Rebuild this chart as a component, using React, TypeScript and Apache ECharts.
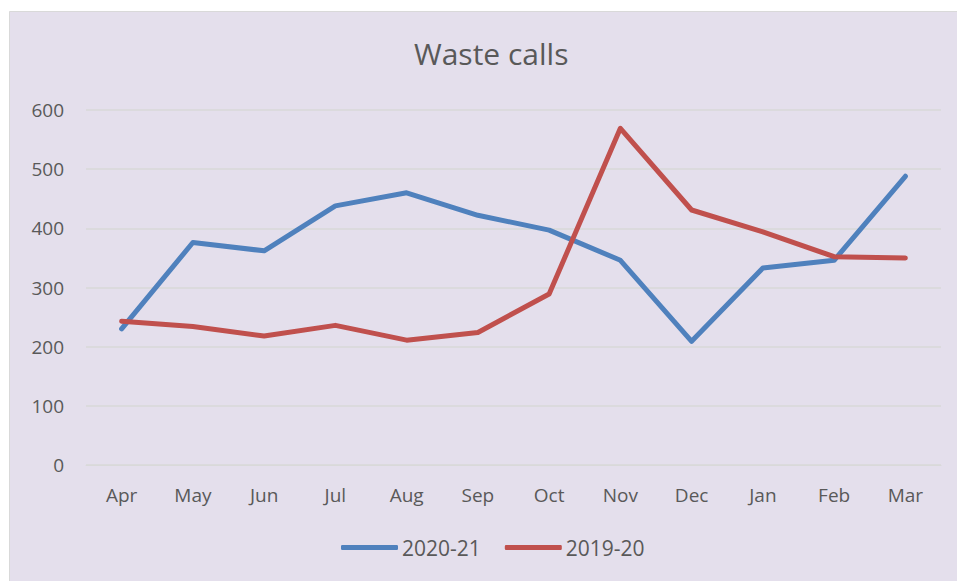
import React, { useEffect, useRef } from "react";
import * as echarts from "echarts";

const categories = ["Apr", "May", "Jun", "Jul", "Aug", "Sep", "Oct", "Nov", "Dec", "Jan", "Feb", "Mar"];
const series2021 = [230, 376, 362, 438, 460, 422, 397, 346, 209, 333, 346, 488];
const series1920 = [243, 234, 218, 236, 211, 224, 289, 569, 431, 394, 352, 350];
const yTicks = { min: 0, max: 600, interval: 100 };

export default function App() {
  const ref = useRef<HTMLDivElement>(null);
  useEffect(() => {
    const chart = echarts.init(ref.current!, null, { renderer: "svg" });
    const font = "'Open Sans', 'Liberation Sans', sans-serif";
    chart.setOption({
      animation: false,
      backgroundColor: "#ffffff",
      graphic: [
        {
          type: "rect",
          z: -10,
          silent: true,
          shape: { x: 9.5, y: 11.5, width: 960, height: 580 },
          style: { fill: "#E4DFEC", stroke: "#D9D9D9", lineWidth: 1 },
        },
      ],
      title: {
        text: "Waste calls",
        left: 409,
        top: 33,
        textStyle: { fontFamily: font, fontSize: 30, fontWeight: "normal", color: "#595959" },
      },
      grid: { left: 86, right: 16, top: 110, bottom: 116, containLabel: false },
      xAxis: {
        type: "category",
        data: categories,
        boundaryGap: true,
        axisLine: { show: true, lineStyle: { color: "#D9D9D9", width: 1 } },
        axisTick: { show: false },
        axisLabel: { color: "#595959", fontFamily: font, fontSize: 19, margin: 20 },
      },
      yAxis: {
        type: "value",
        min: yTicks.min,
        max: yTicks.max,
        interval: yTicks.interval,
        axisLine: { show: false },
        axisTick: { show: false },
        axisLabel: { color: "#595959", fontFamily: font, fontSize: 19, margin: 22 },
        splitLine: { lineStyle: { color: "#D9D9D9", width: 1.5 } },
      },
      legend: {
        bottom: 18,
        left: 336,
        itemWidth: 57,
        itemHeight: 5,
        itemGap: 24,
        icon: "roundRect",
        textStyle: { color: "#595959", fontFamily: font, fontSize: 21, padding: [0, 0, 0, -1] },
        data: ["2020-21", "2019-20"],
      },
      series: [
        {
          name: "2020-21",
          type: "line",
          data: series2021,
          symbol: "none",
          lineStyle: { color: "#4F81BD", width: 5, cap: "round", join: "round" },
          itemStyle: { color: "#4F81BD" },
        },
        {
          name: "2019-20",
          type: "line",
          data: series1920,
          symbol: "none",
          lineStyle: { color: "#C0504D", width: 5, cap: "round", join: "round" },
          itemStyle: { color: "#C0504D" },
        },
      ],
    });
    return () => chart.dispose();
  }, []);
  return (
    <div
      ref={ref}
      style={{ position: "fixed", left: 0, top: 0, width: 957, height: 581 }}
    />
  );
}
